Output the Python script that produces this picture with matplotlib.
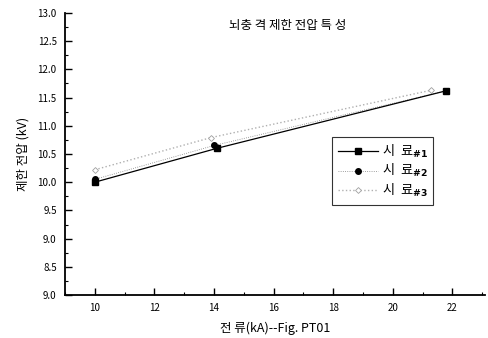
import matplotlib
matplotlib.use("Agg")
import matplotlib.pyplot as plt
from matplotlib.ticker import MultipleLocator, FixedLocator, FixedFormatter

plt.rcParams['font.family'] = ['Noto Sans CJK KR', 'DejaVu Sans']

title = "뇌충 격 제한 전압 특 성"
xlabel = "전 류(kA)--Fig. PT01"
ylabel = "제한 전압 (kV)"

s1_x = [10.0, 14.1, 21.8]
s1_y = [10.0, 10.6, 11.62]
s2_x = [10.0, 14.0, 21.8]
s2_y = [10.05, 10.65, 11.62]
s3_x = [10.0, 13.9, 21.3]
s3_y = [10.22, 10.79, 11.63]
labels = ["시  료", "시  료", "시  료"]
suffix = ["#1", "#2", "#3"]

yticks = [8.0, 8.5, 9.0, 9.5, 10.0, 10.5, 11.0, 11.5, 12.0, 12.5, 13.0]
ytick_labels = ["9.0", "8.5", "9.0", "9.5", "10.0", "10.5", "11.0", "11.5", "12.0", "12.5", "13.0"]
xticks = [10, 12, 14, 16, 18, 20, 22]

fig = plt.figure(figsize=(4.89, 3.38), dpi=100)
ax = fig.add_axes([0.133, 0.127, 0.859, 0.835])

def lab(i):
    return labels[i] + "$_{\\mathbf{" + suffix[i].replace("#", "\\#") + "}}$"

ax.plot(s3_x, s3_y, linestyle=':', color='#b0b0b0', lw=1.0, marker='D', ms=3,
        mfc='white', mec='#a0a0a0', mew=0.6, label=lab(2))
ax.plot(s2_x, s2_y, linestyle=':', color='#808080', lw=0.6, marker='o', ms=4,
        mfc='black', mec='black', label=lab(1))
ax.plot(s1_x, s1_y, linestyle='-', color='black', lw=0.9, marker='s', ms=4.5,
        mfc='black', mec='black', label=lab(0))

ax.set_xlim(9.0, 23.1)
ax.set_ylim(8.0, 13.0)
ax.yaxis.set_major_locator(FixedLocator(yticks))
ax.yaxis.set_major_formatter(FixedFormatter(ytick_labels))
ax.yaxis.set_minor_locator(MultipleLocator(0.25))
ax.xaxis.set_major_locator(FixedLocator(xticks))
ax.xaxis.set_minor_locator(MultipleLocator(1))

for s in ['top', 'right']:
    ax.spines[s].set_visible(False)
for s in ['left', 'bottom']:
    ax.spines[s].set_linewidth(1.3)
ax.tick_params(which='major', direction='in', length=5, width=1.0, labelsize=7, pad=6)
ax.tick_params(which='minor', direction='in', length=2.5, width=0.8)

ax.text(0.53, 0.955, title, transform=ax.transAxes, ha='center', va='center', fontsize=9)
ax.set_xlabel(xlabel, fontsize=9, labelpad=6)
ax.set_ylabel(ylabel, fontsize=9, labelpad=6)

h, l = ax.get_legend_handles_labels()
leg = ax.legend(h[::-1], l[::-1], loc='upper left', bbox_to_anchor=(0.62, 0.585),
                frameon=True, fancybox=False, edgecolor='black', fontsize=9.5,
                handlelength=3.0, borderpad=0.45, labelspacing=0.2, handletextpad=0.3)
leg.get_frame().set_linewidth(0.8)

fig.savefig("out.png", dpi=100)
